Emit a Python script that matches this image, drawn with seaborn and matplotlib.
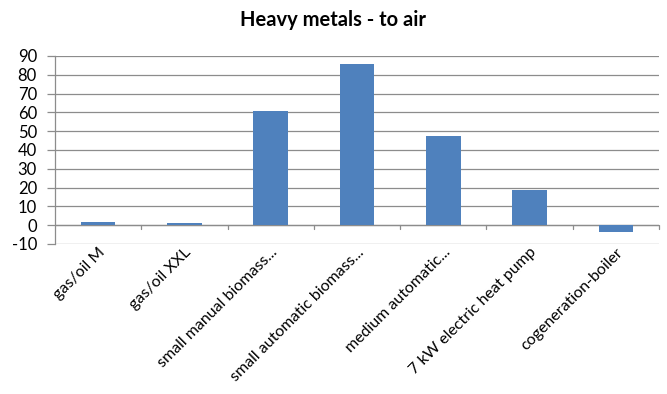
import matplotlib
matplotlib.use("Agg")
import matplotlib.pyplot as plt
import seaborn as sns
import pandas as pd

categories = ["gas/oil M", "gas/oil XXL", "small manual biomass...",
              "small automatic biomass...", "medium automatic...",
              "7 kW electric heat pump", "cogeneration-boiler"]
values = [1.6, 1.0, 61.0, 85.5, 47.7, 18.7, -3.5]
yticks = [-10, 0, 10, 20, 30, 40, 50, 60, 70, 80, 90]

sns.set_theme(style="white")
plt.rcParams["font.family"] = ["Lato", "DejaVu Sans"]

df = pd.DataFrame({"category": categories, "value": values})

fig = plt.figure(figsize=(6.67, 3.94), dpi=100)
ax = fig.add_axes([55 / 667, 1 - 244 / 394, 604 / 667, 188 / 394])

sns.barplot(data=df, x="category", y="value", color="#4F81BD",
            width=0.4, saturation=1, linewidth=0, ax=ax, zorder=5)

grid_c = "#8C8C8C"
ax.set_ylim(-10, 90)
ax.set_xlim(-0.5, len(categories) - 0.5)
ax.set_yticks(yticks)
ax.set_yticklabels([str(t) for t in yticks], fontsize=12, color="black")
for t in yticks:
    ax.axhline(t, color=grid_c, lw=0.9, zorder=1)

# category axis crosses at zero, ticks at category boundaries
ax.axhline(0, color=grid_c, lw=0.9, zorder=4)
for b in range(1, len(categories) + 1):
    ax.plot([b - 0.5, b - 0.5], [0, -1.9], color=grid_c, lw=0.9,
            zorder=4, clip_on=False)

ax.set_xticks(range(len(categories)))
ax.set_xticklabels(categories, rotation=45, ha="right",
                   rotation_mode="anchor", fontsize=11.5, color="black")
ax.tick_params(axis="x", length=0, pad=1)
ax.tick_params(axis="y", length=6, width=0.9, color=grid_c, left=True,
               direction="out", pad=7)

for s in ["top", "right", "bottom"]:
    ax.spines[s].set_visible(False)
ax.spines["left"].set_color(grid_c)
ax.spines["left"].set_linewidth(0.9)
ax.set_xlabel("")
ax.set_ylabel("")

fig.text(0.5, 1 - 20 / 394, "Heavy metals - to air", ha="center",
         va="center", fontsize=14.5, fontweight="bold", color="black")

fig.savefig("out.png", dpi=100)
